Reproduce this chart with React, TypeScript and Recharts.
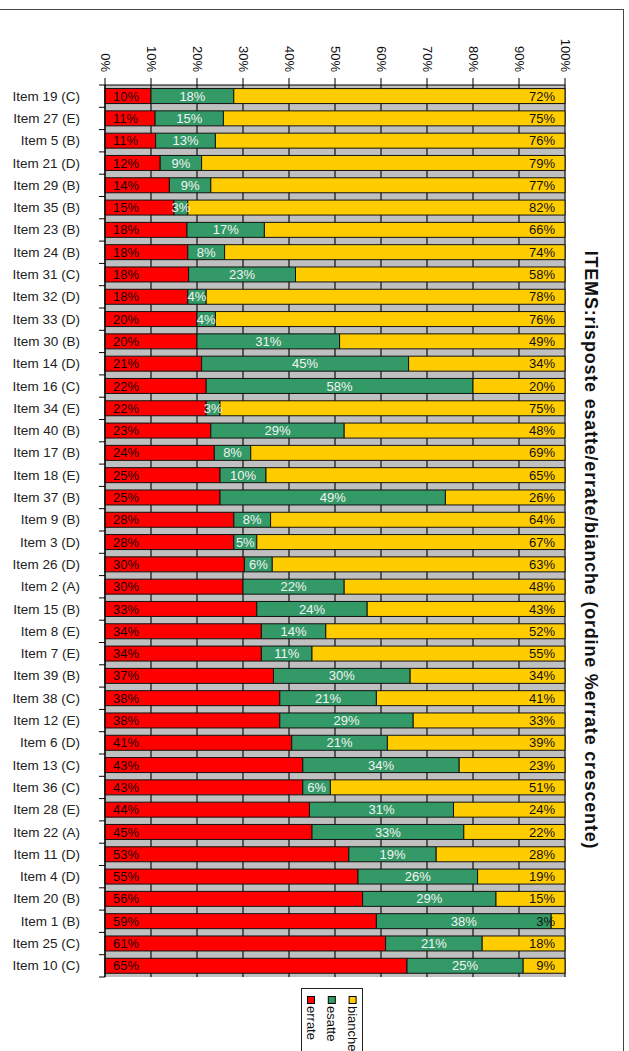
import { BarChart, Bar, XAxis, YAxis, CartesianGrid, LabelList, Legend } from 'recharts'

const items = [
    'Item 19 (C)', 'Item 27 (E)', 'Item 5 (B)', 'Item 21 (D)', 'Item 29 (B)',
    'Item 35 (B)', 'Item 23 (B)', 'Item 24 (B)', 'Item 31 (C)', 'Item 32 (D)',
    'Item 33 (D)', 'Item 30 (B)', 'Item 14 (D)', 'Item 16 (C)', 'Item 34 (E)',
    'Item 40 (B)', 'Item 17 (B)', 'Item 18 (E)', 'Item 37 (B)', 'Item 9 (B)',
    'Item 3 (D)', 'Item 26 (D)', 'Item 2 (A)', 'Item 15 (B)', 'Item 8 (E)',
    'Item 7 (E)', 'Item 39 (B)', 'Item 38 (C)', 'Item 12 (E)', 'Item 6 (D)',
    'Item 13 (C)', 'Item 36 (C)', 'Item 28 (E)', 'Item 22 (A)', 'Item 11 (D)',
    'Item 4 (D)', 'Item 20 (B)', 'Item 1 (B)', 'Item 25 (C)', 'Item 10 (C)',
]
const errate = [10, 11, 11, 12, 14, 15, 18, 18, 18, 18, 20, 20, 21, 22, 22, 23, 24, 25, 25, 28, 28, 30, 30, 33, 34, 34, 37, 38, 38, 41, 43, 43, 44, 45, 53, 55, 56, 59, 61, 65]
const esatte = [18, 15, 13, 9, 9, 3, 17, 8, 23, 4, 4, 31, 45, 58, 3, 29, 8, 10, 49, 8, 5, 6, 22, 24, 14, 11, 30, 21, 29, 21, 34, 6, 31, 33, 19, 26, 29, 38, 21, 25]
const bianche = [72, 75, 76, 79, 77, 82, 66, 74, 58, 78, 76, 49, 34, 20, 75, 48, 69, 65, 26, 64, 67, 63, 48, 43, 52, 55, 34, 41, 33, 39, 23, 51, 24, 22, 28, 19, 15, 3, 18, 9]
const seriesNames = ['errate', 'esatte', 'bianche']
const tickLabels = ['0%', '10%', '20%', '30%', '40%', '50%', '60%', '70%', '80%', '90%', '100%']
const title = 'ITEMS:risposte esatte/errate/bianche (ordine %errate crescente)'

const data = items.map((item, i) => ({ item, errate: errate[i], esatte: esatte[i], bianche: bianche[i] }))
const ticks = tickLabels.map((_, i) => i / 10)

const FONT = '"Liberation Sans", Arial, Helvetica, sans-serif'
const PLOT_LEFT = 105
const PLOT_TOP = 85
const PLOT_BOTTOM = 977
const BAND = (PLOT_BOTTOM - PLOT_TOP) / items.length

const pct = (v: any) => `${v}%`

function TopTick({ x, y, payload }: any) {
    return (
        <text
            transform={`translate(${x},${y}) rotate(90)`}
            textAnchor="end"
            dominantBaseline="central"
            fontSize={13}
            fill="#111"
            fontFamily={FONT}
        >
            {tickLabels[Math.round(payload.value * 10)]}
        </text>
    )
}

function ItemTick({ y, payload, index }: any) {
    const top = y - BAND / 2
    return (
        <g>
            <text x={80} y={y} textAnchor="end" dominantBaseline="central" fontSize={13.5} fill="#222" fontFamily={FONT}>
                {payload.value}
            </text>
            <line x1={PLOT_LEFT - 6} x2={PLOT_LEFT} y1={top} y2={top} stroke="#000" />
            {index === items.length - 1 && (
                <line x1={PLOT_LEFT - 6} x2={PLOT_LEFT} y1={top + BAND} y2={top + BAND} stroke="#000" />
            )}
        </g>
    )
}

function LegendBox({ payload }: any) {
    // keep the legend in series order (errate, esatte, bianche)
    const entries = [...(payload || [])].sort(
        (a: any, b: any) => seriesNames.indexOf(a.value) - seriesNames.indexOf(b.value)
    )
    return (
        <svg width={62} height={70} style={{ display: 'block' }}>
            <rect x={0.5} y={0.5} width={61} height={90} fill="#fff" stroke="#222" />
            {entries.map((p: any, i: number) => {
                const cx = 10 + i * 20.8
                return (
                    <g key={p.value}>
                        <rect x={cx - 3.5} y={8.5} width={7} height={7} fill={p.color} stroke="#000" />
                        <text
                            transform={`translate(${cx},18) rotate(90)`}
                            dominantBaseline="central"
                            fontSize={13}
                            fill="#111"
                            fontFamily={FONT}
                        >
                            {p.value}
                        </text>
                    </g>
                )
            })}
        </svg>
    )
}

export default function App() {
    return (
        <div style={{ position: 'absolute', left: 0, top: 0, width: 629, height: 1051, overflow: 'hidden', background: '#fff' }}>
            <div
                style={{
                    position: 'absolute', left: -1, top: 9, width: 625, height: 1100,
                    border: '1px solid #444', boxSizing: 'border-box',
                }}
            />
            <div style={{ position: 'absolute', left: 0, top: 0 }}>
                <BarChart
                    width={629}
                    height={1051}
                    data={data}
                    layout="vertical"
                    stackOffset="expand"
                    barCategoryGap="16%"
                    margin={{ top: 0, right: 64, bottom: 74, left: 0 }}
                    style={{ fontFamily: FONT }}
                >
                    <CartesianGrid horizontal={false} stroke="#333" strokeWidth={1.5} fill="#C0C0C0" fillOpacity={1} />
                    <XAxis
                        type="number"
                        orientation="top"
                        domain={[0, 1]}
                        ticks={ticks}
                        height={PLOT_TOP}
                        tickSize={7}
                        tickMargin={6}
                        interval={0}
                        axisLine={{ stroke: '#000' }}
                        tickLine={{ stroke: '#000' }}
                        tick={<TopTick />}
                    />
                    <YAxis
                        type="category"
                        dataKey="item"
                        width={PLOT_LEFT}
                        interval={0}
                        axisLine={{ stroke: '#000' }}
                        tickLine={false}
                        tick={<ItemTick />}
                    />
                    <Legend
                        layout="horizontal"
                        verticalAlign="middle"
                        align="center"
                        content={<LegendBox />}
                        wrapperStyle={{ position: 'absolute', left: 301, top: 988, width: 62, height: 70 }}
                    />
                    <Bar dataKey="errate" name="errate" stackId="a" fill="#FF0000" stroke="#111" strokeWidth={1} isAnimationActive={false}>
                        <LabelList dataKey="errate" position="insideLeft" offset={8} fill="#1a0000" fontSize={13} formatter={pct} />
                    </Bar>
                    <Bar dataKey="esatte" name="esatte" stackId="a" fill="#339966" stroke="#111" strokeWidth={1} isAnimationActive={false}>
                        <LabelList dataKey="esatte" position="center" fill="#f4f4f4" fontSize={13} formatter={pct} />
                    </Bar>
                    <Bar dataKey="bianche" name="bianche" stackId="a" fill="#FFCC00" stroke="#111" strokeWidth={1} isAnimationActive={false}>
                        <LabelList dataKey="bianche" position="insideRight" offset={10} fill="#111" fontSize={13} formatter={pct} />
                    </Bar>
                    <text
                        transform="translate(591,550) rotate(90)"
                        textAnchor="middle"
                        dominantBaseline="central"
                        fontWeight="bold"
                        fontSize={18}
                        letterSpacing={0.8}
                        fill="#111"
                        fontFamily={FONT}
                    >
                        {title}
                    </text>
                </BarChart>
            </div>
        </div>
    )
}
